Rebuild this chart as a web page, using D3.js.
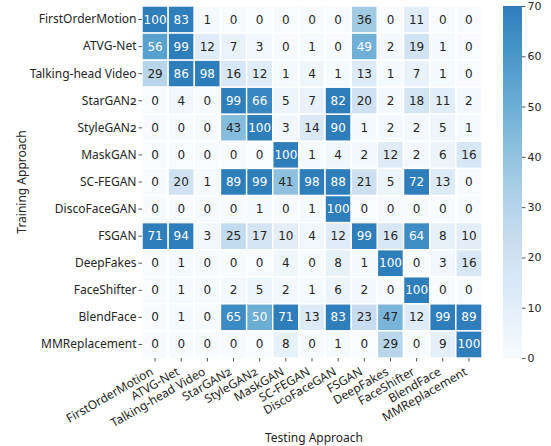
<!DOCTYPE html>
<html>
<head>
<meta charset="utf-8">
<script src="https://cdn.jsdelivr.net/npm/d3@7"></script>
<style>
  html, body { margin: 0; padding: 0; background: #fff; }
  svg { display: block; }
  .lbl { font-family: "Noto Sans", "Open Sans", sans-serif; font-variant-numeric: oldstyle-nums; fill: #262626; }
  .num { font-family: "DejaVu Sans", sans-serif; }
</style>
</head>
<body>
<svg id="chart" width="551" height="446"></svg>
<script>
// Training approaches (rows) and testing approaches (columns)
const trainApproaches = ["FirstOrderMotion", "ATVG-Net", "Talking-head Video", "StarGAN2", "StyleGAN2",
  "MaskGAN", "SC-FEGAN", "DiscoFaceGAN", "FSGAN", "DeepFakes", "FaceShifter", "BlendFace", "MMReplacement"];
const testApproaches = trainApproaches.slice();

// Accuracy (%) per training row, one value per testing column
const rowFirstOrderMotion = [100, 83, 1, 0, 0, 0, 0, 0, 36, 0, 11, 0, 0];
const rowATVGNet          = [56, 99, 12, 7, 3, 0, 1, 0, 49, 2, 19, 1, 0];
const rowTalkingHead      = [29, 86, 98, 16, 12, 1, 4, 1, 13, 1, 7, 1, 0];
const rowStarGAN2         = [0, 4, 0, 99, 66, 5, 7, 82, 20, 2, 18, 11, 2];
const rowStyleGAN2        = [0, 0, 0, 43, 100, 3, 14, 90, 1, 2, 2, 5, 1];
const rowMaskGAN          = [0, 0, 0, 0, 0, 100, 1, 4, 2, 12, 2, 6, 16];
const rowSCFEGAN          = [0, 20, 1, 89, 99, 41, 98, 88, 21, 5, 72, 13, 0];
const rowDiscoFaceGAN     = [0, 0, 0, 0, 1, 0, 1, 100, 0, 0, 0, 0, 0];
const rowFSGAN            = [71, 94, 3, 25, 17, 10, 4, 12, 99, 16, 64, 8, 10];
const rowDeepFakes        = [0, 1, 0, 0, 0, 4, 0, 8, 1, 100, 0, 3, 16];
const rowFaceShifter      = [0, 1, 0, 2, 5, 2, 1, 6, 2, 0, 100, 0, 0];
const rowBlendFace        = [0, 1, 0, 65, 50, 71, 13, 83, 23, 47, 12, 99, 89];
const rowMMReplacement    = [0, 0, 0, 0, 0, 8, 0, 1, 0, 29, 0, 9, 100];

const matrix = [rowFirstOrderMotion, rowATVGNet, rowTalkingHead, rowStarGAN2, rowStyleGAN2,
  rowMaskGAN, rowSCFEGAN, rowDiscoFaceGAN, rowFSGAN, rowDeepFakes, rowFaceShifter, rowBlendFace, rowMMReplacement];

const colorbarTicks = [0, 10, 20, 30, 40, 50, 60, 70];
const vmin = 0, vmax = 70;

const svg = d3.select("#chart");
const grid = { left: 142, top: 6, width: 340, height: 352 };

const x = d3.scaleBand().domain(testApproaches).range([grid.left, grid.left + grid.width]);
const y = d3.scaleBand().domain(trainApproaches).range([grid.top, grid.top + grid.height]);

// Blues ramp clipped at vmax (upper end of the ramp left out)
const color = d3.scaleSequential(t => d3.interpolateBlues(t * 0.7)).domain([vmin, vmax]).clamp(true);

function luminance(c) {
  const rgb = d3.rgb(c);
  const lin = v => { v /= 255; return v <= 0.03928 ? v / 12.92 : Math.pow((v + 0.055) / 1.055, 2.4); };
  return 0.2126 * lin(rgb.r) + 0.7152 * lin(rgb.g) + 0.0722 * lin(rgb.b);
}

const cells = [];
matrix.forEach((row, i) => row.forEach((v, j) => cells.push({ r: trainApproaches[i], c: testApproaches[j], v })));

const g = svg.append("g");
g.selectAll("rect.cell").data(cells).join("rect")
  .attr("class", "cell")
  .attr("x", d => x(d.c))
  .attr("y", d => y(d.r))
  .attr("width", x.bandwidth())
  .attr("height", y.bandwidth())
  .attr("fill", d => color(d.v))
  .attr("stroke", "#fff")
  .attr("stroke-width", 1.4);

g.selectAll("text.val").data(cells).join("text")
  .attr("class", "num")
  .attr("x", d => x(d.c) + x.bandwidth() / 2)
  .attr("y", d => y(d.r) + y.bandwidth() / 2)
  .attr("text-anchor", "middle")
  .attr("dominant-baseline", "central")
  .attr("font-size", 12)
  .attr("fill", d => luminance(color(d.v)) > 0.408 ? "#262626" : "#ffffff")
  .text(d => d.v);

// Y axis (training approach)
const yAxis = svg.append("g").attr("transform", `translate(${grid.left},0)`)
  .call(d3.axisLeft(y).tickSize(3.5).tickPadding(2));
yAxis.select(".domain").remove();
yAxis.selectAll(".tick line").attr("stroke", "#262626").attr("stroke-width", 0.8);
yAxis.selectAll(".tick text").attr("class", "lbl").attr("font-size", 12).attr("fill", "#262626");

// X axis (testing approach), labels rotated
const xAxis = svg.append("g").attr("transform", `translate(0,${grid.top + grid.height})`)
  .call(d3.axisBottom(x).tickSize(3.5).tickPadding(2));
xAxis.select(".domain").remove();
xAxis.selectAll(".tick line").attr("stroke", "#262626").attr("stroke-width", 0.8);
xAxis.selectAll(".tick text")
  .attr("class", "lbl").attr("font-size", 12).attr("fill", "#262626")
  .attr("text-anchor", "end")
  .attr("dy", null)
  .attr("y", 0)
  .attr("transform", "translate(-1,16) rotate(-30)");

// Axis titles
svg.append("text").attr("class", "lbl")
  .attr("x", grid.left + grid.width / 2 + 2).attr("y", 441.5)
  .attr("text-anchor", "middle").attr("font-size", 12)
  .text("Testing Approach");
svg.append("text").attr("class", "lbl")
  .attr("transform", `translate(26,${grid.top + grid.height / 2}) rotate(-90)`)
  .attr("text-anchor", "middle").attr("font-size", 12)
  .text("Training Approach");

// Colour bar
const cb = { x: 503, width: 19, top: grid.top, height: grid.height };
const cbScale = d3.scaleLinear().domain([vmin, vmax]).range([cb.top + cb.height, cb.top]);
const defs = svg.append("defs");
const grad = defs.append("linearGradient").attr("id", "cbgrad")
  .attr("x1", 0).attr("y1", 1).attr("x2", 0).attr("y2", 0);
d3.range(0, 1.0001, 0.05).forEach(t => {
  grad.append("stop").attr("offset", t).attr("stop-color", color(vmin + t * (vmax - vmin)));
});
svg.append("rect").attr("x", cb.x).attr("y", cb.top).attr("width", cb.width).attr("height", cb.height)
  .attr("fill", "url(#cbgrad)");
const cbAxis = svg.append("g").attr("transform", `translate(${cb.x + cb.width},0)`)
  .call(d3.axisRight(cbScale).tickValues(colorbarTicks).tickSize(3.5).tickPadding(2));
cbAxis.select(".domain").remove();
cbAxis.selectAll(".tick line").attr("stroke", "#262626").attr("stroke-width", 0.8);
cbAxis.selectAll(".tick text").attr("font-family", "DejaVu Sans").attr("font-size", 11).attr("fill", "#262626");
</script>
</body>
</html>
